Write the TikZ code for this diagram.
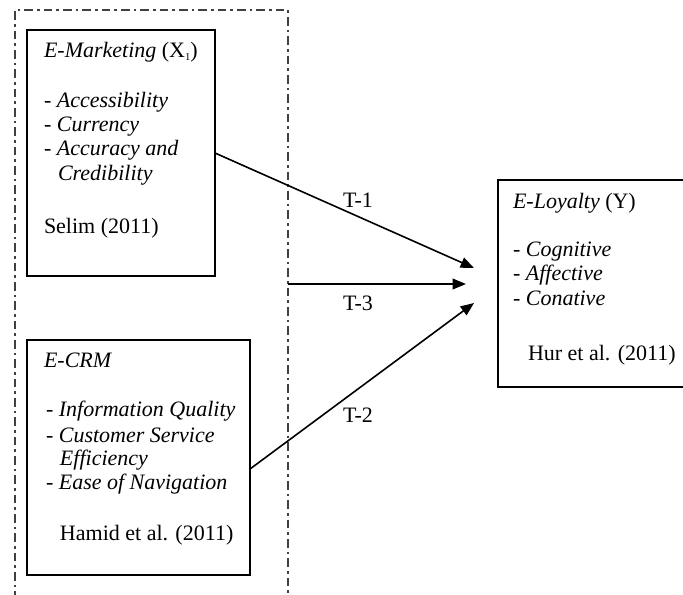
\documentclass[tikz,border=0pt]{standalone}
\usepackage{fontspec}
\setmainfont{Liberation Serif}
\usetikzlibrary{arrows.meta}
\begin{document}
\begin{tikzpicture}[x=0.75pt,y=-0.75pt,
  every node/.style={inner sep=0pt,outer sep=0pt},
  boxnode/.style={draw=black,line width=1.3pt,rectangle,anchor=north west},
  txt/.style={anchor=base west,font=\fontsize{16.5}{18.4}\selectfont},
  tlabel/.style={anchor=base,font=\fontsize{16.5}{18.4}\selectfont},
  conn/.style={draw=black,line width=1.2pt,-{Triangle[length=10pt,width=8pt]}},
  frame/.style={draw=black!75,line width=1.1pt,dash pattern=on 6.5pt off 3pt on 2pt off 3pt}
]
\useasboundingbox (0,0) rectangle (683,594);
% dash-dot frame
\coordinate (fbl) at (15,600);
\coordinate (ftl) at (15,10);
\coordinate (ftr) at (288,10);
\coordinate (fbr) at (288,600);
\draw[frame] (fbl) -- (ftl) -- (ftr) -- (fbr);

% boxes
\node[boxnode,minimum width=141pt,minimum height=184.5pt] (mk) at (27,30) {};
\node[boxnode,minimum width=167.25pt,minimum height=176.25pt] (crm) at (27,340) {};
\node[boxnode,minimum width=142.5pt,minimum height=155.25pt] (loy) at (498,180) {};

% E-Marketing texts
\node[txt] (mk1) at (44,57) {\textit{E-Marketing} (X\raisebox{-2.5pt}{\fontsize{8}{9}\selectfont 1})};
\node[txt] (mk2) at (44,107) {- \textit{Accessibility}};
\node[txt] (mk3) at (44,131) {- \textit{Currency}};
\node[txt] (mk4) at (44,155) {- \textit{Accuracy and}};
\node[txt] (mk5) at (58,180) {\textit{Credibility}};
\node[txt] (mk6) at (44,233) {Selim (2011)};

% E-CRM texts
\node[txt] (cr1) at (44,367) {\textit{E-CRM}};
\node[txt] (cr2) at (46,416) {- \textit{Information Quality}};
\node[txt] (cr3) at (46,442) {- \textit{Customer Service}};
\node[txt] (cr4) at (60,465) {\textit{Efficiency}};
\node[txt] (cr5) at (46,489) {- \textit{Ease of Navigation}};
\node[txt] (cr6) at (60,540) {Hamid et al. (2011)};

% E-Loyalty texts
\node[txt] (ly1) at (513,208) {\textit{E-Loyalty} (Y)};
\node[txt] (ly2) at (513,256) {- \textit{Cognitive}};
\node[txt] (ly3) at (513,280) {- \textit{Affective}};
\node[txt] (ly4) at (513,305) {- \textit{Conative}};
\node[txt] (ly5) at (528,360) {Hur et al. (2011)};

% connector end points
\coordinate (s1) at (215,153);
\coordinate (e1) at (474,268);
\coordinate (s3) at (288,284);
\coordinate (e3) at (466,284);
\coordinate (s2) at (250,469);
\coordinate (e2) at (474,303);

\draw[conn] (s1) -- (e1);
\draw[conn] (s3) -- (e3);
\draw[conn] (s2) -- (e2);

\node[tlabel] (t1) at (358,207) {T-1};
\node[tlabel] (t3) at (358,310) {T-3};
\node[tlabel] (t2) at (358,422) {T-2};
\end{tikzpicture}
\end{document}
